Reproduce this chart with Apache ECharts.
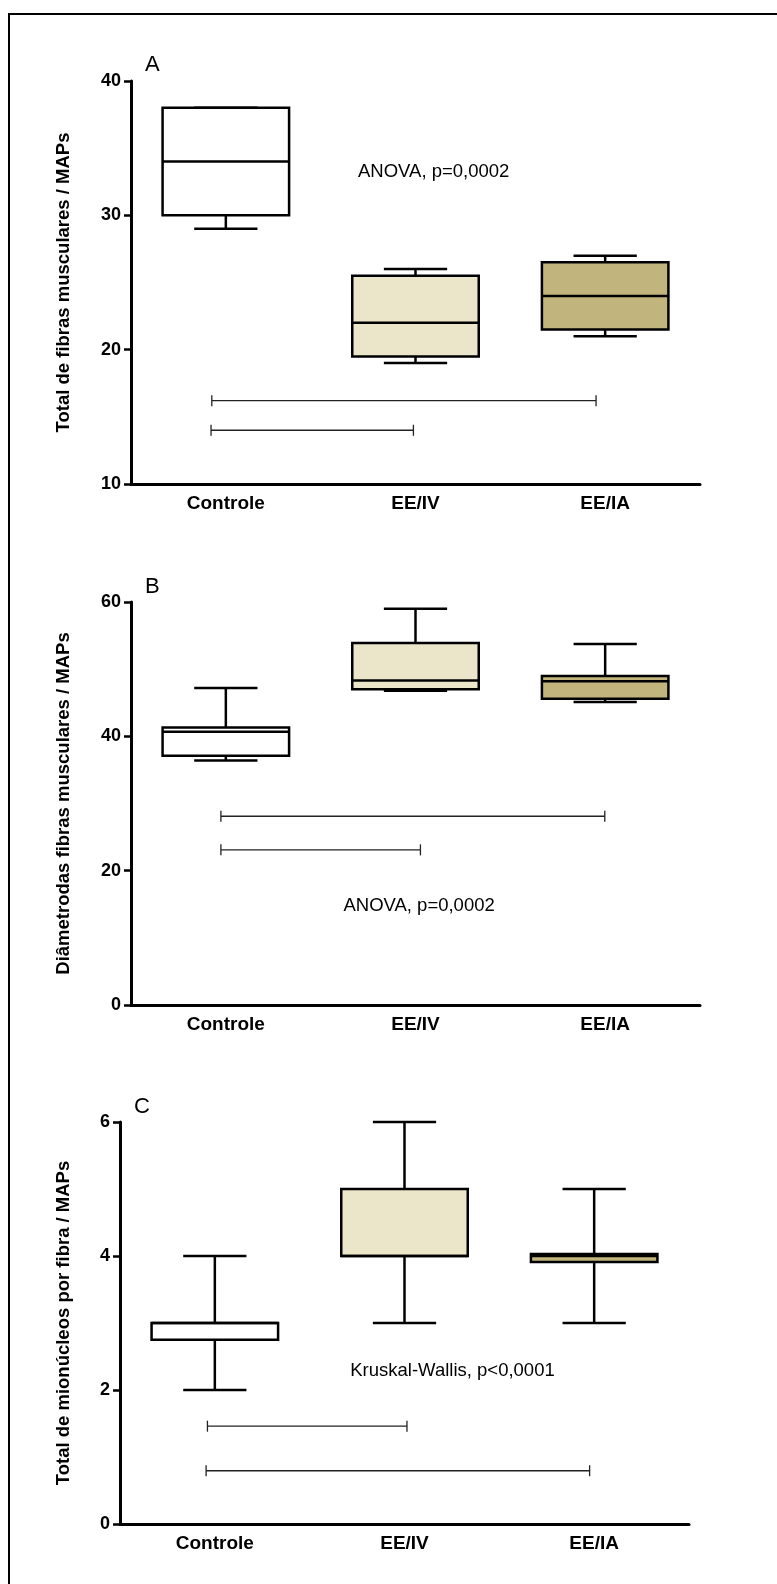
<!DOCTYPE html>
<html>
<head>
<meta charset="utf-8">
<title>Fibras musculares / MAPs</title>
<script src="https://cdn.jsdelivr.net/npm/echarts@6/dist/echarts.min.js"></script>
<style>
    html, body {margin: 0; padding: 0; background: #fff;}
    #chart {width: 777px; height: 1584px;}
</style>
</head>
<body>
<div id="chart"></div>
<script>
const categories = ['Controle', 'EE/IV', 'EE/IA'];

// [min, Q1, mediana, Q3, max] por grupo
const boxA = [[29, 30, 34, 38, 38], [19, 19.5, 22, 25.5, 26], [21, 21.5, 24, 26.5, 27]];
const boxB = [[36.4, 37.1, 40.7, 41.3, 47.2], [46.8, 47.0, 48.3, 53.9, 59.0], [45.1, 45.6, 48.2, 49.0, 53.75]];
const boxC = [[2, 2.75, 3, 3, 4], [3, 4, 4, 5, 6], [3, 3.91, 4, 4.03, 5]];

// barras de comparação: [de, até, altura]
const sigA = [[-0.074, 1.952, 16.2], [-0.078, 0.989, 14.0]];
const sigB = [[-0.026, 1.998, 28.1], [-0.026, 1.026, 23.1]];
const sigC = [[-0.039, 1.013, 1.46], [-0.046, 1.976, 0.795]];

// marcas do eixo y
const yTicksA = [10, 20, 30, 40];
const yTicksB = [0, 20, 40, 60];
const yTicksC = [0, 2, 4, 6];

const titlesY = [
    'Total de fibras musculares / MAPs',
    'Diâmetrodas fibras musculares / MAPs',
    'Total de mionúcleos por fibra / MAPs'
];
const notes = [
    {text: 'ANOVA, p=0,0002', at: [1.096, 33.2]},
    {text: 'ANOVA, p=0,0002', at: [1.019, 14.75]},
    {text: 'Kruskal-Wallis, p<0,0001', at: [1.253, 2.29]}
];

const FONT = '"Liberation Sans", Arial, Helvetica, sans-serif';
const fills = ['#ffffff', '#ebe5c9', '#c1b57d'];

const panels = [
    {box: boxA, sig: sigA, ticks: yTicksA, letter: 'A', grid: {left: 131, top: 81, width: 569, height: 403}, letterPos: [145, 54], nameGap: 58},
    {box: boxB, sig: sigB, ticks: yTicksB, letter: 'B', grid: {left: 131, top: 602, width: 569, height: 403}, letterPos: [145, 576], nameGap: 58},
    {box: boxC, sig: sigC, ticks: yTicksC, letter: 'C', grid: {left: 120, top: 1122, width: 569, height: 402}, letterPos: [134, 1096], nameGap: 47}
];

function renderBox(params, api) {
    const i = api.value(0);
    const w = api.size([1, 0])[0] * 0.667;
    const x = api.coord([i, 0])[0];
    const y = function (dim) {
        return api.coord([i, api.value(dim)])[1];
    };
    const yMin = y(1), yQ1 = y(2), yMed = y(3), yQ3 = y(4), yMax = y(5);
    const line = {stroke: '#000', lineWidth: 2.5};
    return {
        type: 'group',
        children: [
            {type: 'line', shape: {x1: x, y1: yQ3, x2: x, y2: yMax}, style: line},
            {type: 'line', shape: {x1: x, y1: yQ1, x2: x, y2: yMin}, style: line},
            {type: 'line', shape: {x1: x - w / 4, y1: yMax, x2: x + w / 4, y2: yMax}, style: line},
            {type: 'line', shape: {x1: x - w / 4, y1: yMin, x2: x + w / 4, y2: yMin}, style: line},
            {type: 'rect', shape: {x: x - w / 2, y: yQ3, width: w, height: yQ1 - yQ3}, style: {fill: fills[i], stroke: '#000', lineWidth: 2.5}},
            {type: 'line', shape: {x1: x - w / 2, y1: yMed, x2: x + w / 2, y2: yMed}, style: line}
        ]
    };
}

function renderSig(params, api) {
    const a = api.coord([api.value(0), api.value(2)]);
    const b = api.coord([api.value(1), api.value(2)]);
    const st = {stroke: '#222', lineWidth: 1.3};
    return {
        type: 'group',
        children: [
            {type: 'line', shape: {x1: a[0], y1: a[1], x2: b[0], y2: b[1]}, style: st},
            {type: 'line', shape: {x1: a[0], y1: a[1] - 5.5, x2: a[0], y2: a[1] + 5.5}, style: st},
            {type: 'line', shape: {x1: b[0], y1: b[1] - 5.5, x2: b[0], y2: b[1] + 5.5}, style: st}
        ]
    };
}

let option = {
    backgroundColor: '#fff',
    animation: false,
    grid: [],
    xAxis: [],
    yAxis: [],
    series: [],
    graphic: [
        {type: 'rect', shape: {x: 9, y: 14, width: 900, height: 1700}, style: {fill: 'none', stroke: '#000', lineWidth: 2}}
    ]
};

panels.forEach(function (p, k) {
    const t = p.ticks;
    option.grid.push(Object.assign({containLabel: false}, p.grid));
    option.xAxis.push({
        type: 'category',
        gridIndex: k,
        data: categories,
        boundaryGap: true,
        axisLine: {onZero: false, lineStyle: {color: '#000', width: 3}},
        axisTick: {alignWithLabel: true, length: 6, lineStyle: {color: '#000', width: 2.5}},
        axisLabel: {color: '#000', fontSize: 19, fontWeight: 'bold', fontFamily: FONT, margin: 10},
        splitLine: {show: false}
    });
    option.xAxis.push({
        type: 'value',
        gridIndex: k,
        show: false,
        min: -0.5,
        max: 2.5
    });
    option.yAxis.push({
        type: 'value',
        gridIndex: k,
        min: t[0],
        max: t[t.length - 1],
        interval: t[1] - t[0],
        name: titlesY[k],
        nameLocation: 'middle',
        nameGap: p.nameGap,
        nameTextStyle: {color: '#000', fontSize: 18.5, fontWeight: 'bold', fontFamily: FONT},
        axisLine: {show: true, onZero: false, lineStyle: {color: '#000', width: 3}},
        axisTick: {show: true, length: 7, lineStyle: {color: '#000', width: 2.5}},
        axisLabel: {color: '#000', fontSize: 18, fontWeight: 'bold', fontFamily: FONT, margin: 10},
        splitLine: {show: false}
    });
    option.series.push({
        type: 'custom',
        xAxisIndex: k * 2 + 1,
        yAxisIndex: k,
        renderItem: renderBox,
        encode: {x: 0, y: [1, 2, 3, 4, 5]},
        data: p.box.map(function (b, i) {
            return [i].concat(b);
        }),
        z: 3
    });
    option.series.push({
        type: 'custom',
        xAxisIndex: k * 2 + 1,
        yAxisIndex: k,
        renderItem: renderSig,
        encode: {x: [0, 1], y: 2},
        data: p.sig,
        z: 3
    });
    const note = notes[k];
    option.series.push({
        type: 'custom',
        xAxisIndex: k * 2 + 1,
        yAxisIndex: k,
        renderItem: function (params, api) {
            const pt = api.coord([api.value(0), api.value(1)]);
            return {
                type: 'text',
                x: pt[0],
                y: pt[1],
                style: {text: note.text, fill: '#000', font: '18.5px ' + FONT, align: 'center', verticalAlign: 'middle'}
            };
        },
        encode: {x: 0, y: 1},
        data: [note.at],
        z: 3
    });
    option.graphic.push({
        type: 'text',
        x: p.letterPos[0],
        y: p.letterPos[1],
        style: {text: p.letter, fill: '#000', font: '22px ' + FONT, verticalAlign: 'top'}
    });
});

const myChart = echarts.init(document.getElementById('chart'), null, {renderer: 'canvas'});
myChart.setOption(option);
</script>
</body>
</html>
